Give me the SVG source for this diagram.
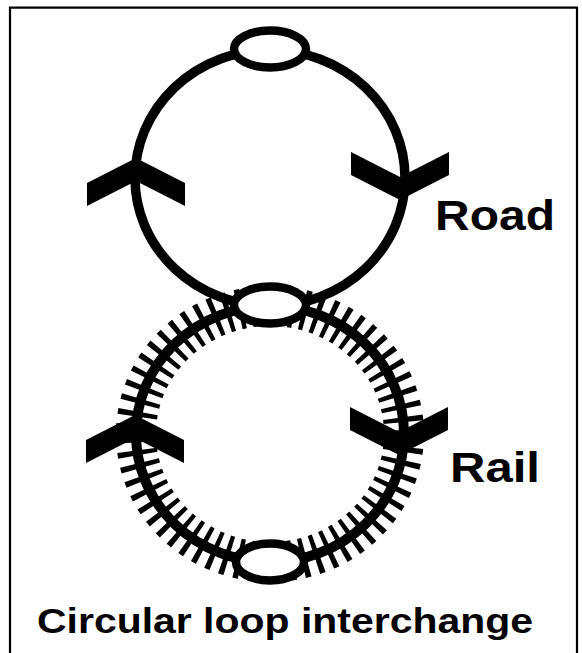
<svg xmlns="http://www.w3.org/2000/svg" width="582" height="653" viewBox="0 0 582 653">
<style>
.road{fill:none;stroke:#000;stroke-width:9.5}
.rail{fill:none;stroke:#000;stroke-width:10}
.ties{fill:none;stroke:#000;stroke-width:40;stroke-dasharray:5 8}
.stn{fill:#fff;stroke:#000;stroke-width:8.5}
.lbl{font-family:"Liberation Sans",Arial,sans-serif;font-weight:bold;fill:#000}
</style>
<defs>
<polygon id="chev" points="0,0 49,25 49,48 0,23 -49,48 -49,25" fill="#000"/>
</defs>
<rect width="582" height="653" fill="#fff"/>
<path d="M10,653 V7.7 H577 V653" fill="none" stroke="#000" stroke-width="2.2"/>
<g id="connectors">
<ellipse class="ties" cx="270" cy="434" rx="134" ry="128"/>
<ellipse class="rail" cx="270" cy="434" rx="134" ry="128"/>
<ellipse class="road" cx="270" cy="178" rx="135" ry="128"/>
<use href="#chev" transform="translate(136,158)"/>
<use href="#chev" transform="translate(400,200) rotate(180)"/>
<use href="#chev" transform="translate(135,415)"/>
<use href="#chev" transform="translate(399,455) rotate(180)"/>
</g>
<g id="station-top"><ellipse class="stn" cx="270" cy="49" rx="36" ry="18.5"/></g>
<g id="station-middle"><ellipse class="stn" cx="270" cy="305" rx="36" ry="18.5"/></g>
<g id="station-bottom"><ellipse class="stn" cx="270" cy="562" rx="34" ry="18.5"/></g>
<g id="label-road"><text class="lbl" x="435" y="230" font-size="42" textLength="120" lengthAdjust="spacingAndGlyphs">Road</text></g>
<g id="label-rail"><text class="lbl" x="450" y="482" font-size="42" textLength="90" lengthAdjust="spacingAndGlyphs">Rail</text></g>
<g id="caption"><text class="lbl" x="37" y="633" font-size="35" textLength="496" lengthAdjust="spacingAndGlyphs">Circular loop interchange</text></g>
</svg>
